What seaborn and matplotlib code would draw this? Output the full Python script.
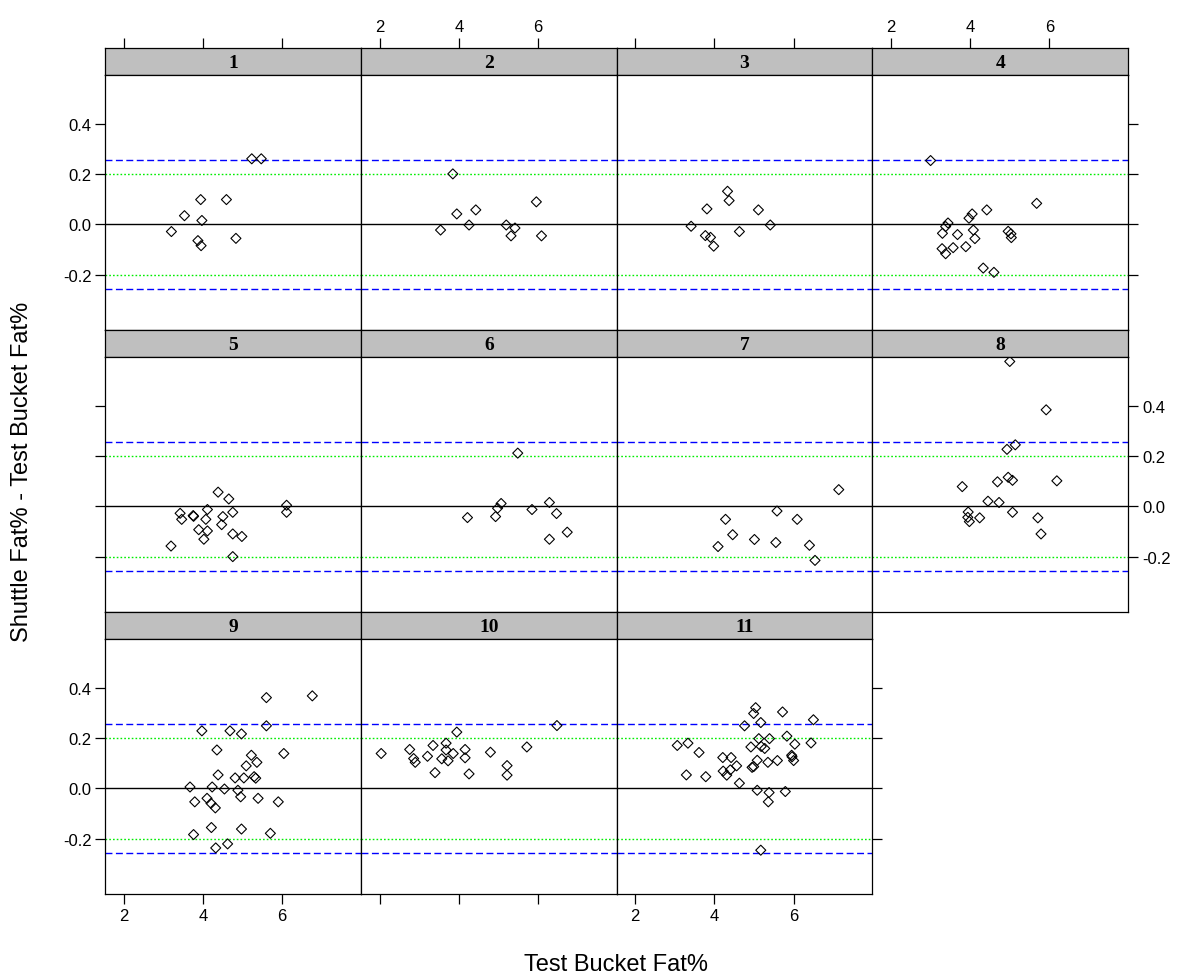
import matplotlib
matplotlib.use("Agg")
import matplotlib.pyplot as plt
import numpy as np
import pandas as pd
import seaborn as sns

# ---------------- data ----------------
x1 = [5.23, 5.47, 3.94, 4.59, 3.53, 3.97, 3.20, 3.87, 3.95, 4.83]
y1 = [0.260, 0.260, 0.098, 0.098, 0.034, 0.015, -0.029, -0.065, -0.085, -0.056]

x2 = [3.85, 3.95, 4.43, 4.26, 3.54, 5.20, 5.42, 5.32, 5.96, 6.09]
y2 = [0.200, 0.041, 0.057, -0.003, -0.023, -0.003, -0.015, -0.046, 0.089, -0.046]

x3 = [4.33, 4.37, 3.81, 5.11, 3.41, 5.41, 4.63, 3.77, 3.90, 3.98]
y3 = [0.131, 0.094, 0.061, 0.057, -0.008, -0.003, -0.029, -0.045, -0.052, -0.087]

x4 = [3.00, 5.68, 4.42, 4.05, 3.97, 3.44, 3.38, 3.30, 3.68, 4.08,
      4.12, 4.96, 5.03, 5.04, 3.29, 3.38, 3.57, 3.89, 4.33, 4.60]
y4 = [0.253, 0.083, 0.057, 0.041, 0.024, 0.005, -0.009, -0.036, -0.041, -0.023,
      -0.057, -0.028, -0.038, -0.053, -0.097, -0.117, -0.093, -0.089, -0.174, -0.191]

x5 = [4.38, 4.65, 6.11, 6.11, 4.11, 4.75, 3.42, 3.46, 3.75, 3.76,
      4.07, 4.50, 4.47, 3.89, 4.11, 4.02, 4.75, 4.98, 3.19, 4.75]
y5 = [0.056, 0.029, 0.004, -0.024, -0.013, -0.024, -0.028, -0.052, -0.037, -0.040,
      -0.052, -0.041, -0.073, -0.093, -0.098, -0.131, -0.110, -0.120, -0.158, -0.200]

x6 = [5.49, 5.07, 4.98, 4.93, 4.22, 5.85, 6.29, 6.47, 6.29, 6.74]
y6 = [0.211, 0.011, -0.008, -0.041, -0.045, -0.013, 0.015, -0.029, -0.131, -0.103]

x7 = [7.14, 5.58, 4.28, 6.09, 4.46, 5.01, 5.55, 4.09, 6.40, 6.54]
y7 = [0.066, -0.019, -0.052, -0.052, -0.113, -0.132, -0.144, -0.160, -0.155, -0.215]

x8 = [5.00, 5.92, 5.14, 4.93, 4.96, 5.07, 4.69, 6.19, 3.80, 4.45,
      4.73, 3.95, 3.94, 3.98, 4.24, 5.07, 5.71, 5.79]
y8 = [0.575, 0.383, 0.244, 0.226, 0.115, 0.103, 0.097, 0.101, 0.078, 0.020,
      0.015, -0.023, -0.044, -0.061, -0.046, -0.024, -0.046, -0.110]

x9 = [6.76, 5.60, 5.60, 3.97, 4.68, 4.97, 4.35, 6.04, 5.22, 5.36,
      5.09, 4.38, 4.81, 5.03, 5.29, 5.33, 3.67, 4.23, 4.54, 4.88,
      4.95, 5.39, 4.10, 4.20, 4.31, 3.79, 5.90, 4.21, 4.97, 3.76,
      5.70, 4.62, 4.32]
y9 = [0.367, 0.360, 0.248, 0.228, 0.228, 0.216, 0.152, 0.138, 0.131, 0.103,
      0.089, 0.053, 0.041, 0.041, 0.046, 0.040, 0.005, 0.005, -0.003, -0.008,
      -0.034, -0.040, -0.040, -0.060, -0.078, -0.054, -0.054, -0.156, -0.162, -0.184,
      -0.179, -0.221, -0.237]

x10 = [6.48, 3.95, 3.68, 3.35, 2.76, 3.68, 4.16, 5.72, 2.04, 3.86,
       4.80, 3.21, 2.86, 2.90, 3.57, 3.73, 4.16, 5.22, 5.22, 3.40, 4.26]
y10 = [0.249, 0.223, 0.179, 0.170, 0.154, 0.152, 0.154, 0.164, 0.138, 0.138,
       0.143, 0.127, 0.118, 0.103, 0.117, 0.109, 0.121, 0.090, 0.052, 0.062, 0.057]

x11 = [5.04, 4.99, 5.72, 6.50, 5.17, 4.76, 5.12, 5.39, 5.83, 6.03,
       6.44, 3.06, 3.33, 4.92, 5.18, 5.27, 3.61, 5.95, 5.96, 6.00,
       4.21, 4.42, 5.08, 5.35, 5.59, 4.56, 4.95, 4.99, 4.40, 4.22,
       4.31, 3.29, 3.78, 4.63, 5.08, 5.38, 5.79, 5.36, 5.17]
y11 = [0.320, 0.297, 0.303, 0.272, 0.261, 0.248, 0.197, 0.197, 0.207, 0.175,
       0.180, 0.170, 0.179, 0.164, 0.166, 0.158, 0.142, 0.131, 0.125, 0.110,
       0.122, 0.122, 0.111, 0.103, 0.110, 0.089, 0.083, 0.086, 0.073, 0.068,
       0.052, 0.053, 0.046, 0.020, -0.008, -0.017, -0.013, -0.054, -0.246]

panel_labels = ["1", "2", "3", "4", "5", "6", "7", "8", "9", "10", "11"]
xs = [x1, x2, x3, x4, x5, x6, x7, x8, x9, x10, x11]
ys = [y1, y2, y3, y4, y5, y6, y7, y8, y9, y10, y11]

x_ticks = [2, 4, 6]
x_tick_labels = ["2", "4", "6"]
y_ticks = [-0.2, 0.0, 0.2, 0.4]
y_tick_labels = ["-0.2", "0.0", "0.2", "0.4"]

limit_outer = 0.256   # blue dashed
limit_inner = 0.200   # green dotted

x_label = "Test Bucket Fat%"
y_label = "Shuttle Fat% - Test Bucket Fat%"

df = pd.concat(
    [pd.DataFrame({"panel": lab, "x": xv, "y": yv})
     for lab, xv, yv in zip(panel_labels, xs, ys)],
    ignore_index=True)

# ---------------- style ----------------
sns.set_theme(style="white")
plt.rcParams["font.family"] = ["Liberation Sans", "DejaVu Sans"]
plt.rcParams["axes.unicode_minus"] = False
plt.rcParams["text.color"] = "black"
plt.rcParams["xtick.color"] = "black"
plt.rcParams["ytick.color"] = "black"

W, H = 1180, 978
fig = plt.figure(figsize=(W / 100, H / 100), dpi=100)
fig.patch.set_facecolor("white")

col_left = [105.3, 361.0, 616.7, 872.4]
col_w = 255.7
row_top = [49.0, 331.0, 613.0]
strip_h = 26.7
row_h = 282.0
xlim = (1.53, 7.99)
ylim = (-0.42, 0.594)

tick_fs = 12
tick_len = 7


def frac(x0, y0, w, h):
    return [x0 / W, 1 - (y0 + h) / H, w / W, h / H]


n = len(panel_labels)
for i, lab in enumerate(panel_labels):
    r, c = divmod(i, 4)
    last_in_row = (c == 3) or (i == n - 1)

    sax = fig.add_axes(frac(col_left[c], row_top[r], col_w, strip_h))
    ax = fig.add_axes(frac(col_left[c], row_top[r] + strip_h, col_w, row_h - strip_h))

    # strip
    sax.set_facecolor("#BFBFBF")
    sax.set_xlim(xlim)
    sax.set_ylim(0, 1)
    sax.set_yticks([])
    sax.text(np.mean(xlim), 0.45, lab, ha="center", va="center", color="black",
             fontsize=14, fontweight="bold", family="Liberation Serif")
    for sp in sax.spines.values():
        sp.set_color("black")
        sp.set_linewidth(0.9)
    if r == 0:
        sax.set_xticks(x_ticks)
        sax.set_xticklabels(x_tick_labels)
        sax.tick_params(axis="x", top=True, bottom=False,
                        labeltop=(c in (1, 3)), labelbottom=False,
                        direction="out", length=tick_len, width=0.9,
                        color="black", labelcolor="black",
                        labelsize=tick_fs, pad=3)
    else:
        sax.set_xticks([])

    # panel
    sub = df[df["panel"] == lab]
    ax.axhline(0, color="black", lw=1.0, zorder=1)
    for s in (1, -1):
        ax.axhline(s * limit_outer, color="#0000FF", lw=1.0,
                   dashes=(5, 2.5), zorder=1)
        ax.axhline(s * limit_inner, color="#00EE00", lw=1.0,
                   dashes=(1.2, 1.5), zorder=1)
    sns.scatterplot(data=sub, x="x", y="y", ax=ax, marker="D", s=26,
                    facecolor="none", edgecolor="black", linewidth=0.8,
                    zorder=3, legend=False)
    ax.set_xlim(xlim)
    ax.set_ylim(ylim)
    ax.set_xlabel("")
    ax.set_ylabel("")
    for sp in ax.spines.values():
        sp.set_visible(True)
        sp.set_color("black")
        sp.set_linewidth(0.9)

    ax.set_xticks(x_ticks)
    ax.set_xticklabels(x_tick_labels)
    ax.set_yticks(y_ticks)
    ax.set_yticklabels(y_tick_labels)
    ax.tick_params(axis="x", top=False, bottom=(r == 2),
                   labeltop=False, labelbottom=(r == 2 and c in (0, 2)),
                   direction="out", length=tick_len, width=0.9, color="black",
                   labelcolor="black", labelsize=tick_fs, pad=3)
    ax.tick_params(axis="y", left=(c == 0), right=last_in_row,
                   labelleft=(c == 0 and r in (0, 2)),
                   labelright=(r == 1 and c == 3),
                   direction="out", length=tick_len, width=0.9, color="black",
                   labelcolor="black", labelsize=tick_fs, pad=3)

fig.text(616.5 / W, 1 - 965 / H, x_label, ha="center", va="center",
         fontsize=17, color="black")
fig.text(22 / W, 1 - 472 / H, y_label, ha="center", va="center",
         rotation=90, fontsize=17, color="black")

fig.savefig("out.png", dpi=100, facecolor="white")
